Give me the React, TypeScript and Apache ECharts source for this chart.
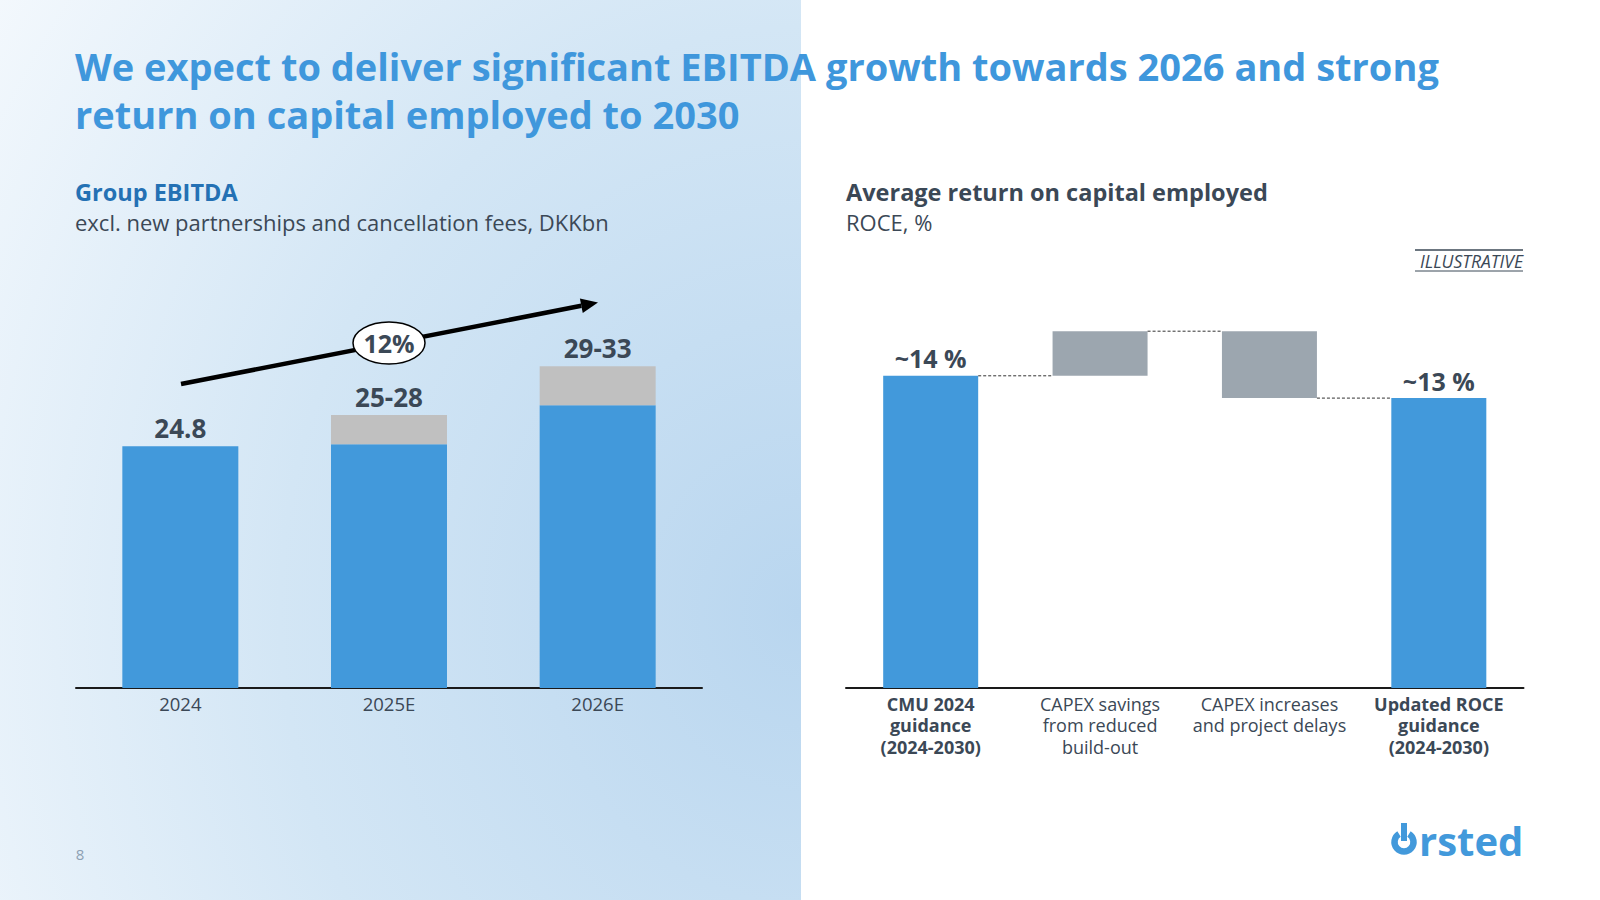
import React, { useEffect, useRef } from 'react';
import * as echarts from 'echarts';

// ---------- Data ----------
const ebitdaYears = ['2024', '2025E', '2026E'];
const ebitdaLow = [24.8, 25, 29];
const ebitdaRange = [0, 3, 4];
const ebitdaLabels = ['24.8', '25-28', '29-33'];
const growthLabel = '12%';

const roceCategories = [
  'CMU 2024\nguidance\n(2024-2030)',
  'CAPEX savings\nfrom reduced\nbuild-out',
  'CAPEX increases\nand project delays',
  'Updated ROCE\nguidance\n(2024-2030)',
];
const roceBoldCategory = [true, false, false, true];
const roceSteps = [14, 2, -3, 13];
const roceIsTotal = [true, false, false, true];
const roceLabels = ['~14 %', '', '', '~13 %'];

const titleLines = [
  'We expect to deliver significant EBITDA growth towards 2026 and strong',
  'return on capital employed to 2030',
];

const FONT = '"Open Sans", Lato, sans-serif';
const DARK = '#3b4856';
const BLUE = '#4299db';
const GREY_RANGE = '#c0c0c0';
const GREY_STEP = '#9ca6af';

export default function App() {
  const ref = useRef<HTMLDivElement>(null);

  useEffect(() => {
    if (!ref.current) return;
    const chart = echarts.init(ref.current, undefined, { renderer: 'svg' });

    // waterfall computations
    const base: number[] = [];
    const heights: number[] = [];
    const levels: number[] = [];
    let level = 0;
    roceSteps.forEach((v, i) => {
      if (roceIsTotal[i]) {
        base.push(0);
        heights.push(v);
        level = v;
      } else if (v >= 0) {
        base.push(level);
        heights.push(v);
        level += v;
      } else {
        base.push(level + v);
        heights.push(-v);
        level += v;
      }
      levels.push(level);
    });
    const connectorData = levels.slice(0, -1).map((l, i) => [i, l]);
    const roceColors = roceIsTotal.map((t) => (t ? BLUE : GREY_STEP));

    // arrow geometry
    const ax1 = 181, ay1 = 384, ax2 = 598, ay2 = 302.5;
    const ang = Math.atan2(ay2 - ay1, ax2 - ax1);
    const headLen = 17, headW = 7.5;
    const bx = ax2 - headLen * Math.cos(ang), by = ay2 - headLen * Math.sin(ang);
    const nx = -Math.sin(ang), ny = Math.cos(ang);

    const option: any = {
      animation: false,
      textStyle: { fontFamily: FONT },
      grid: [
        { left: 76, top: 298, width: 626, height: 390 },
        { left: 846, top: 242, width: 677.5, height: 446 },
      ],
      xAxis: [
        {
          type: 'category',
          gridIndex: 0,
          data: ebitdaYears,
          axisTick: { show: false },
          axisLine: { lineStyle: { color: '#1a1a1a', width: 2 } },
          axisLabel: { color: DARK, fontSize: 18.5, margin: 6, fontFamily: FONT },
        },
        {
          type: 'category',
          gridIndex: 1,
          data: roceCategories,
          axisTick: { show: false },
          axisLine: { lineStyle: { color: '#1a1a1a', width: 2 } },
          axisLabel: {
            interval: 0,
            margin: 5,
            fontFamily: FONT,
            formatter: (value: string, idx: number) =>
              value
                .split('\n')
                .map((l) => (roceBoldCategory[idx] ? `{b|${l}}` : `{n|${l}}`))
                .join('\n'),
            rich: {
              b: { fontSize: 18, fontWeight: 'bold', color: DARK, lineHeight: 21.5, fontFamily: FONT },
              n: { fontSize: 18, color: DARK, lineHeight: 21.5, fontFamily: FONT },
            },
          },
        },
      ],
      yAxis: [
        { type: 'value', gridIndex: 0, min: 0, max: 40, show: false, splitLine: { show: false } },
        { type: 'value', gridIndex: 1, min: 0, max: 20, show: false, splitLine: { show: false } },
      ],
      series: [
        {
          type: 'bar',
          name: 'low',
          xAxisIndex: 0,
          yAxisIndex: 0,
          stack: 'ebitda',
          barWidth: 116,
          data: ebitdaLow,
          itemStyle: { color: BLUE },
        },
        {
          type: 'bar',
          name: 'range',
          xAxisIndex: 0,
          yAxisIndex: 0,
          stack: 'ebitda',
          barWidth: 116,
          data: ebitdaRange,
          itemStyle: { color: GREY_RANGE },
          label: {
            show: true,
            position: 'top',
            distance: 5,
            formatter: (p: any) => ebitdaLabels[p.dataIndex],
            fontSize: 26,
            fontWeight: 'bold',
            color: DARK,
            fontFamily: FONT,
          },
        },
        {
          type: 'bar',
          name: 'base',
          xAxisIndex: 1,
          yAxisIndex: 1,
          stack: 'roce',
          barWidth: 95,
          data: base,
          itemStyle: { color: 'transparent' },
          silent: true,
        },
        {
          type: 'bar',
          name: 'roce',
          xAxisIndex: 1,
          yAxisIndex: 1,
          stack: 'roce',
          barWidth: 95,
          data: heights.map((h, i) => ({ value: h, itemStyle: { color: roceColors[i] } })),
          label: {
            show: true,
            position: 'top',
            distance: 5,
            formatter: (p: any) => roceLabels[p.dataIndex],
            fontSize: 25,
            fontWeight: 'bold',
            color: DARK,
            fontFamily: FONT,
          },
        },
        {
          type: 'custom',
          xAxisIndex: 1,
          yAxisIndex: 1,
          data: connectorData,
          silent: true,
          z: 5,
          renderItem: (params: any, api: any) => {
            const i = api.value(0);
            const lvl = api.value(1);
            const p1 = api.coord([i, lvl]);
            const p2 = api.coord([i + 1, lvl]);
            const bw = 95;
            return {
              type: 'line',
              shape: { x1: p1[0] + bw / 2, y1: p1[1], x2: p2[0] - bw / 2, y2: p2[1] },
              style: { stroke: '#333', lineWidth: 1, lineDash: [3, 2] },
            };
          },
        },
      ],
      graphic: [
        {
          type: 'rect',
          z: -10,
          silent: true,
          shape: { x: 0, y: 0, width: 801, height: 900 },
          style: {
            fill: new echarts.graphic.RadialGradient(1.0, 0.68, 1.3, [
              { offset: 0, color: '#b9d6ef' },
              { offset: 0.5, color: '#d3e6f5' },
              { offset: 1, color: '#f8fbfe' },
            ]),
          },
        },
        {
          type: 'text',
          x: 75,
          y: 41.5,
          style: {
            text: titleLines.join('\n'),
            fill: '#3f97dc',
            font: `bold 38px ${FONT}`,
            lineHeight: 48,
            verticalAlign: 'top',
          },
        },
        {
          type: 'text',
          x: 75,
          y: 192,
          style: { text: 'Group EBITDA', fill: '#2471b4', font: `bold 23.5px ${FONT}`, verticalAlign: 'middle' },
        },
        {
          type: 'text',
          x: 75,
          y: 222,
          style: {
            text: 'excl. new partnerships and cancellation fees, DKKbn',
            fill: DARK,
            font: `22px ${FONT}`,
            verticalAlign: 'middle',
          },
        },
        {
          type: 'text',
          x: 846,
          y: 192,
          style: {
            text: 'Average return on capital employed',
            fill: DARK,
            font: `bold 23.5px ${FONT}`,
            verticalAlign: 'middle',
          },
        },
        {
          type: 'text',
          x: 846,
          y: 222,
          style: { text: 'ROCE, %', fill: DARK, font: `22px ${FONT}`, verticalAlign: 'middle' },
        },
        {
          type: 'text',
          x: 1523,
          y: 261,
          style: {
            text: 'ILLUSTRATIVE',
            fill: DARK,
            font: `italic 17.5px ${FONT}`,
            align: 'right',
            verticalAlign: 'middle',
          },
        },
        {
          type: 'line',
          shape: { x1: 1415, y1: 250, x2: 1523, y2: 250 },
          style: { stroke: DARK, lineWidth: 1.5 },
        },
        {
          type: 'line',
          shape: { x1: 1415, y1: 271, x2: 1523, y2: 271 },
          style: { stroke: DARK, lineWidth: 1 },
        },
        // growth arrow
        {
          type: 'line',
          z: 10,
          shape: { x1: ax1, y1: ay1, x2: bx, y2: by },
          style: { stroke: '#000', lineWidth: 4.5 },
        },
        {
          type: 'polygon',
          z: 10,
          shape: {
            points: [
              [ax2, ay2],
              [bx + nx * headW, by + ny * headW],
              [bx - nx * headW, by - ny * headW],
            ],
          },
          style: { fill: '#000' },
        },
        {
          type: 'ellipse',
          z: 11,
          shape: { cx: 389, cy: 343, rx: 36, ry: 21 },
          style: { fill: '#fff', stroke: '#000', lineWidth: 1.5 },
        },
        {
          type: 'text',
          z: 12,
          x: 389,
          y: 343,
          style: {
            text: growthLabel,
            fill: DARK,
            font: `bold 25px ${FONT}`,
            align: 'center',
            verticalAlign: 'middle',
          },
        },
        // page number
        {
          type: 'text',
          x: 80,
          y: 854,
          style: { text: '8', fill: '#8da0b3', font: `15px ${FONT}`, align: 'center', verticalAlign: 'middle' },
        },
        // logo
        {
          type: 'arc',
          shape: { cx: 1404, cy: 842, r: 9.5, startAngle: -Math.PI / 2 + 0.55, endAngle: -Math.PI / 2 - 0.55 + Math.PI * 2, clockwise: true },
          style: { stroke: BLUE, lineWidth: 6.5, fill: null },
        },
        {
          type: 'line',
          shape: { x1: 1404, y1: 823, x2: 1404, y2: 841 },
          style: { stroke: BLUE, lineWidth: 6 },
        },
        {
          type: 'text',
          x: 1419,
          y: 840,
          style: { text: 'rsted', fill: BLUE, font: `bold 40px ${FONT}`, verticalAlign: 'middle' },
        },
      ],
    };

    chart.setOption(option);
    return () => chart.dispose();
  }, []);

  return (
    <div
      ref={ref}
      style={{ position: 'fixed', left: 0, top: 0, width: 1600, height: 900, background: '#ffffff' }}
    />
  );
}
